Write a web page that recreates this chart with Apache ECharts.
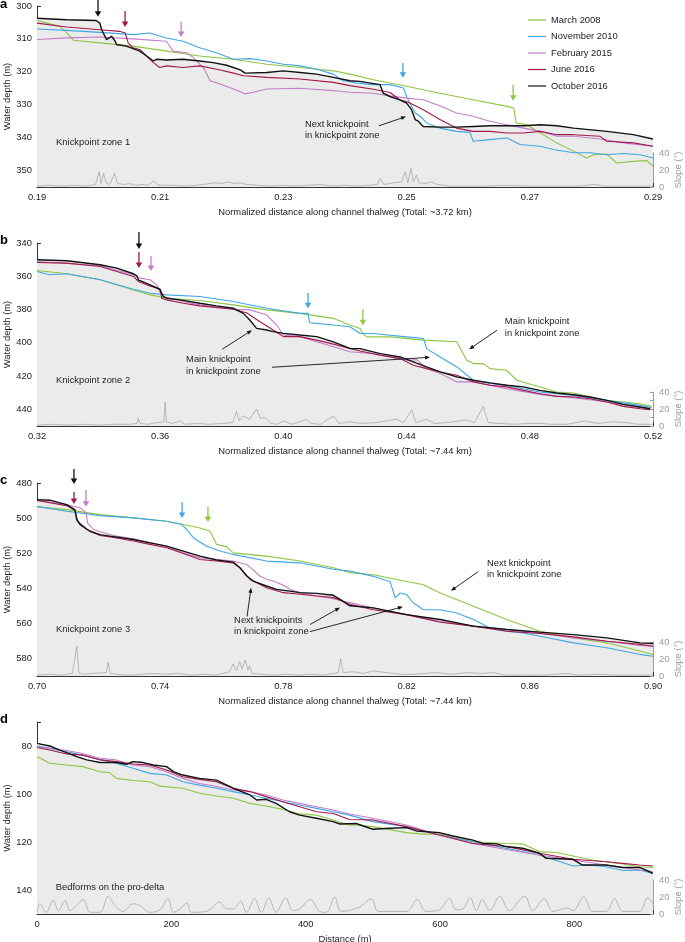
<!DOCTYPE html>
<html><head><meta charset="utf-8">
<script src="https://cdn.jsdelivr.net/npm/echarts@6/dist/echarts.min.js"></script>
<style>html,body{margin:0;padding:0;background:#fff}#c{width:685px;height:942px}</style>
</head><body><div id="c"></div>
<script>
const surveyNames = ['March 2008','November 2010','February 2015','June 2016','October 2016'];
const surveyColors = ['#8dc641','#41a6e4','#c47dc9','#a3184c','#111111'];

// ---------- Panel a : Knickpoint zone 1 (x normalized, y depth m) ----------
const a_mar2008 = [[0.19,304.4],[0.1937,306.2],[0.1948,308.0],[0.1959,310.4],[0.2002,311.2],[0.2056,312.2],[0.2110,313.7],[0.2164,315.2],[0.2219,316.2],[0.2273,317.7],[0.2327,318.7],[0.2381,319.7],[0.2408,320.7],[0.2446,322.4],[0.2500,324.4],[0.2554,326.5],[0.2608,328.5],[0.2663,330.5],[0.2674,331.0],[0.2678,335.6],[0.2695,336.1],[0.2717,338.6],[0.2744,341.6],[0.2771,344.1],[0.2792,346.2],[0.2803,345.2],[0.2825,345.0],[0.2841,347.7],[0.2868,347.2],[0.2890,347.0],[0.2900,348.7]];
const a_nov2010 = [[0.19,307.0],[0.1948,307.4],[0.2002,308.0],[0.2056,308.7],[0.2083,308.2],[0.2110,309.7],[0.2137,310.7],[0.2164,312.7],[0.2191,314.2],[0.2219,316.2],[0.2246,316.0],[0.2273,316.7],[0.2300,317.7],[0.2327,318.2],[0.2354,319.2],[0.2381,320.7],[0.2397,322.7],[0.2419,323.4],[0.2446,323.9],[0.2473,323.9],[0.2495,324.9],[0.2500,327.5],[0.2508,330.5],[0.2514,332.5],[0.2522,333.5],[0.2533,335.6],[0.2554,337.1],[0.2581,338.1],[0.2603,338.4],[0.2608,341.1],[0.2635,340.6],[0.2663,340.1],[0.2684,342.1],[0.2717,342.6],[0.2738,343.6],[0.2771,344.6],[0.2798,344.6],[0.2825,345.2],[0.2852,344.8],[0.2879,345.2],[0.2900,346.2]];
const a_feb2015 = [[0.19,310.2],[0.1948,309.7],[0.2002,309.4],[0.2056,310.0],[0.2110,310.7],[0.2121,313.7],[0.2143,314.2],[0.2154,315.7],[0.2170,318.7],[0.2181,322.7],[0.2197,323.7],[0.2219,325.2],[0.2238,326.7],[0.2251,326.2],[0.2273,325.2],[0.2327,325.0],[0.2381,325.7],[0.2408,326.2],[0.2446,326.5],[0.2473,327.3],[0.2500,328.0],[0.2527,328.5],[0.2554,330.3],[0.2581,332.5],[0.2608,333.5],[0.2635,335.0],[0.2663,336.1],[0.2690,337.1],[0.2717,338.1],[0.2744,339.6],[0.2771,339.6],[0.2814,340.4],[0.2852,341.6],[0.2900,342.6]];
const a_jun2016 = [[0.19,305.2],[0.1948,306.4],[0.2002,307.2],[0.2034,307.7],[0.2043,308.2],[0.2048,311.2],[0.2056,312.7],[0.2067,313.2],[0.2078,315.2],[0.2089,317.2],[0.2099,318.7],[0.2110,318.2],[0.2137,318.7],[0.2164,318.2],[0.2192,319.2],[0.2219,320.4],[0.2235,321.2],[0.2273,321.7],[0.2327,322.2],[0.2381,323.2],[0.2408,324.2],[0.2446,325.3],[0.2473,326.3],[0.2489,328.5],[0.2500,329.0],[0.2511,330.0],[0.2527,331.5],[0.2554,334.5],[0.2581,337.1],[0.2608,338.1],[0.2635,338.1],[0.2663,338.6],[0.2690,338.6],[0.2717,338.1],[0.2744,339.1],[0.2771,339.1],[0.2814,339.6],[0.2825,341.1],[0.2868,341.6],[0.2900,342.6]];
const a_oct2016 = [[0.19,303.7],[0.1948,304.2],[0.1996,304.4],[0.2002,305.2],[0.2005,307.2],[0.2013,310.2],[0.2021,309.2],[0.2027,310.7],[0.2029,311.7],[0.2045,312.2],[0.2067,313.7],[0.2078,315.2],[0.2089,316.7],[0.2094,316.2],[0.2110,316.4],[0.2137,316.2],[0.2164,316.7],[0.2186,317.2],[0.2208,318.0],[0.2230,319.4],[0.2238,320.4],[0.2273,320.2],[0.2300,319.7],[0.2327,320.2],[0.2354,320.7],[0.2381,321.7],[0.2408,322.7],[0.2424,322.9],[0.2457,323.9],[0.2462,326.5],[0.2473,327.5],[0.2489,328.5],[0.2500,329.5],[0.2508,331.5],[0.2514,334.5],[0.2519,335.0],[0.2527,336.6],[0.2554,336.8],[0.2581,336.8],[0.2608,336.6],[0.2635,336.4],[0.2663,336.4],[0.2690,336.4],[0.2717,336.1],[0.2744,336.4],[0.2771,337.1],[0.2825,338.1],[0.2868,339.1],[0.2900,340.4]];
const a_slope = [[0.19,1],[0.192,2],[0.194,1],[0.196,2],[0.198,1],[0.1995,3],[0.2001,18],[0.2004,4],[0.2008,16],[0.2012,5],[0.2018,3],[0.2026,16],[0.2031,4],[0.204,3],[0.205,4],[0.206,2],[0.207,3],[0.208,2],[0.209,7],[0.2095,3],[0.210,2],[0.212,2],[0.214,1],[0.216,2],[0.218,4],[0.219,5],[0.220,4],[0.221,6],[0.222,4],[0.223,5],[0.224,3],[0.226,2],[0.228,1],[0.230,2],[0.232,1],[0.234,2],[0.236,3],[0.238,1],[0.240,2],[0.242,1],[0.244,2],[0.2452,3],[0.2457,10],[0.2463,3],[0.248,5],[0.2492,6],[0.2498,18],[0.2502,5],[0.2507,22],[0.2511,6],[0.2516,14],[0.252,5],[0.253,4],[0.254,6],[0.255,3],[0.257,1],[0.26,1],[0.263,1],[0.266,2],[0.27,1],[0.274,1],[0.278,1],[0.2805,3],[0.282,1],[0.286,1],[0.29,1]];

// ---------- Panel b : Knickpoint zone 2 ----------
const b_mar2008 = [[0.32,356.5],[0.3297,358.5],[0.3405,362.1],[0.3513,368.2],[0.3567,371.2],[0.3621,373.2],[0.3729,374.6],[0.3837,377.2],[0.3946,380.2],[0.4053,382.3],[0.4162,385.3],[0.4216,389.3],[0.4249,391.4],[0.4258,394.5],[0.4271,396.4],[0.4346,396.4],[0.4455,398.4],[0.4563,399.4],[0.4595,410.5],[0.4617,412.5],[0.4649,412.5],[0.4671,415.5],[0.4725,416.5],[0.4758,422.5],[0.4833,426.5],[0.4887,429.6],[0.4942,430.2],[0.4996,432.6],[0.5050,434.6],[0.5158,436.6],[0.5196,438.2]];
const b_nov2010 = [[0.32,357.1],[0.3241,359.1],[0.3297,358.5],[0.3405,362.1],[0.3513,367.8],[0.3567,370.2],[0.3621,371.2],[0.3729,372.2],[0.3837,375.2],[0.3946,379.2],[0.4053,382.3],[0.4080,382.3],[0.4085,387.9],[0.4108,388.3],[0.4162,389.3],[0.4216,390.3],[0.4249,394.4],[0.4292,394.4],[0.4400,396.4],[0.4455,397.4],[0.4465,403.5],[0.4509,408.5],[0.4563,414.5],[0.4617,422.5],[0.4671,424.5],[0.4725,425.5],[0.4779,427.6],[0.4833,429.6],[0.4887,430.6],[0.4942,431.6],[0.5050,434.6],[0.5158,437.6],[0.5196,439.0]];
const b_feb2015 = [[0.32,351.1],[0.3405,353.7],[0.3513,359.1],[0.3535,361.1],[0.3567,362.1],[0.3589,365.2],[0.3599,369.2],[0.3610,372.2],[0.3675,375.2],[0.3729,377.2],[0.3837,379.8],[0.3891,380.2],[0.3946,383.3],[0.3978,389.3],[0.4000,395.3],[0.4053,396.3],[0.4108,399.4],[0.4162,402.4],[0.4216,405.4],[0.4292,406.5],[0.4400,410.5],[0.4433,410.1],[0.4465,415.5],[0.4509,418.5],[0.4563,423.5],[0.4617,423.5],[0.4725,427.6],[0.4833,431.0],[0.4942,433.0],[0.5050,435.6],[0.5158,439.0],[0.5191,439.6]];
const b_jun2016 = [[0.32,351.7],[0.3297,352.1],[0.3405,354.1],[0.3513,360.1],[0.3529,363.1],[0.3567,365.8],[0.3599,367.8],[0.3605,373.2],[0.3621,374.2],[0.3675,376.2],[0.3729,377.8],[0.3837,379.8],[0.3880,381.9],[0.3924,387.3],[0.3967,392.3],[0.4000,396.3],[0.4053,396.3],[0.4108,398.4],[0.4162,400.8],[0.4216,403.4],[0.4249,404.9],[0.4314,407.5],[0.4379,409.5],[0.4422,413.5],[0.4465,415.5],[0.4509,417.5],[0.4563,419.5],[0.4617,423.5],[0.4671,425.5],[0.4725,426.5],[0.4779,428.6],[0.4833,430.6],[0.4887,432.2],[0.4942,432.6],[0.4996,433.6],[0.5050,435.6],[0.5104,438.2],[0.5158,439.6],[0.5191,440.2]];
const b_oct2016 = [[0.32,350.1],[0.3297,350.7],[0.3405,353.1],[0.3459,355.1],[0.3513,358.5],[0.3524,359.7],[0.3529,362.1],[0.3567,365.2],[0.3599,367.8],[0.3610,372.2],[0.3621,373.2],[0.3664,374.2],[0.3729,376.2],[0.3783,377.8],[0.3837,379.2],[0.3870,382.3],[0.3891,386.3],[0.3913,391.3],[0.3946,392.3],[0.3967,393.3],[0.4000,394.3],[0.4053,395.3],[0.4108,396.3],[0.4162,399.4],[0.4216,403.4],[0.4249,403.5],[0.4314,406.5],[0.4379,408.5],[0.4422,411.5],[0.4465,414.5],[0.4509,417.5],[0.4563,420.5],[0.4617,422.5],[0.4671,424.1],[0.4725,425.5],[0.4779,426.5],[0.4833,428.6],[0.4887,430.2],[0.4942,431.2],[0.4996,432.6],[0.5050,434.6],[0.5104,437.0],[0.5158,438.6],[0.5191,439.6]];
const b_slope = [[0.32,1],[0.325,2],[0.33,1],[0.335,2],[0.34,1],[0.345,2],[0.35,2],[0.3525,3],[0.3529,9],[0.3535,3],[0.356,2],[0.359,4],[0.3612,5],[0.3616,28],[0.362,5],[0.364,3],[0.3664,6],[0.368,2],[0.372,3],[0.376,2],[0.38,3],[0.3835,4],[0.3848,17],[0.3856,6],[0.387,12],[0.389,8],[0.3913,20],[0.3925,9],[0.394,10],[0.396,3],[0.398,2],[0.4,6],[0.403,2],[0.4075,8],[0.409,3],[0.412,2],[0.4162,12],[0.418,3],[0.4216,5],[0.425,3],[0.43,4],[0.4368,8],[0.439,4],[0.4417,19],[0.443,4],[0.4465,8],[0.449,3],[0.453,4],[0.4595,7],[0.462,4],[0.4649,23],[0.4665,4],[0.47,3],[0.475,2],[0.48,3],[0.4833,3],[0.487,2],[0.492,2],[0.498,6],[0.502,3],[0.507,5],[0.5115,4],[0.515,2],[0.52,2]];

// ---------- Panel c : Knickpoint zone 3 ----------
const c_mar2008 = [[0.70,493.6],[0.7096,495.2],[0.7205,498.0],[0.7313,499.9],[0.7421,501.8],[0.7475,503.7],[0.7529,505.6],[0.7562,507.5],[0.7583,515.0],[0.7616,516.4],[0.7637,519.8],[0.7745,521.7],[0.7854,524.5],[0.7962,528.3],[0.8016,531.1],[0.8092,532.3],[0.8200,536.1],[0.8255,538.0],[0.8309,542.7],[0.8417,550.3],[0.8525,557.8],[0.8633,564.5],[0.8742,568.3],[0.8850,571.1],[0.8958,575.8],[0.9000,577.7]];
const c_nov2010 = [[0.70,493.3],[0.7096,496.1],[0.7205,498.6],[0.7313,499.9],[0.7421,501.8],[0.7470,503.7],[0.7486,506.5],[0.7508,511.3],[0.7551,516.0],[0.7594,518.8],[0.7637,520.7],[0.7745,524.5],[0.7854,525.5],[0.7962,529.2],[0.8016,530.2],[0.8092,533.2],[0.8146,536.1],[0.8163,545.5],[0.8179,542.7],[0.8200,543.6],[0.8222,548.4],[0.8255,552.2],[0.8309,552.2],[0.8363,554.1],[0.8417,557.8],[0.8471,562.6],[0.8525,564.5],[0.8579,565.4],[0.8633,567.3],[0.8742,571.1],[0.8850,573.9],[0.8958,577.7],[0.9000,578.7]];
const c_feb2015 = [[0.70,489.8],[0.7096,492.3],[0.7140,494.2],[0.7160,497.0],[0.7164,502.7],[0.7183,506.5],[0.7216,508.4],[0.7259,510.3],[0.7313,511.8],[0.7421,516.0],[0.7475,519.8],[0.7529,522.6],[0.7637,524.5],[0.7681,526.4],[0.7724,533.0],[0.7745,534.9],[0.7767,535.9],[0.7800,538.3],[0.7821,540.6],[0.7854,542.5],[0.7908,544.4],[0.7962,545.9],[0.8016,548.2],[0.8092,551.2],[0.8200,555.0],[0.8309,558.8],[0.8417,561.6],[0.8525,563.5],[0.8633,565.4],[0.8742,568.3],[0.8850,570.2],[0.8958,572.6],[0.9000,573.0]];
const c_jun2016 = [[0.70,490.0],[0.7096,492.9],[0.7123,495.5],[0.7132,501.8],[0.7162,506.5],[0.7205,509.9],[0.7259,511.3],[0.7313,513.1],[0.7367,515.0],[0.7421,516.9],[0.7475,520.2],[0.7529,523.6],[0.7583,524.5],[0.7637,525.5],[0.7659,528.3],[0.7692,534.9],[0.7745,539.7],[0.7800,542.5],[0.7854,543.4],[0.7908,544.4],[0.7962,545.3],[0.8016,549.1],[0.8092,552.2],[0.8200,555.0],[0.8309,559.4],[0.8417,561.6],[0.8525,564.5],[0.8633,565.8],[0.8742,567.7],[0.8850,570.2],[0.8958,572.0],[0.9000,573.0]];
const c_oct2016 = [[0.70,489.5],[0.7042,489.8],[0.7096,492.3],[0.7123,495.2],[0.7129,500.8],[0.7140,503.7],[0.7172,507.5],[0.7205,509.4],[0.7237,510.3],[0.7313,512.2],[0.7367,514.1],[0.7421,516.0],[0.7475,518.8],[0.7529,521.7],[0.7583,523.9],[0.7637,525.1],[0.7659,528.3],[0.7681,533.0],[0.7702,535.9],[0.7745,538.7],[0.7778,540.6],[0.7821,541.6],[0.7854,542.5],[0.7908,542.9],[0.7962,544.0],[0.7984,546.3],[0.8016,550.0],[0.8092,551.2],[0.8200,555.0],[0.8309,557.8],[0.8417,561.6],[0.8525,563.5],[0.8633,565.0],[0.8742,566.4],[0.8850,568.3],[0.8958,571.1],[0.9000,571.5]];
const c_slope = [[0.70,1],[0.704,2],[0.708,1],[0.7115,3],[0.7129,35],[0.7136,4],[0.715,2],[0.718,3],[0.7225,4],[0.7231,16],[0.7238,3],[0.726,2],[0.73,1],[0.734,2],[0.738,3],[0.742,2],[0.746,3],[0.75,1],[0.754,2],[0.758,1],[0.7625,5],[0.7637,14],[0.7648,6],[0.7658,17],[0.7666,8],[0.7676,19],[0.7685,7],[0.769,12],[0.7698,3],[0.773,2],[0.777,1],[0.781,2],[0.785,1],[0.789,2],[0.793,1],[0.7978,4],[0.7986,20],[0.7994,4],[0.8026,5],[0.806,3],[0.809,6],[0.8136,4],[0.818,2],[0.8225,2],[0.8298,4],[0.834,2],[0.840,4],[0.844,3],[0.848,4],[0.852,1],[0.858,1],[0.8645,1],[0.8719,3],[0.876,1],[0.882,2],[0.888,1],[0.894,1],[0.90,1]];

// ---------- Panel d : Bedforms on the pro-delta (x distance m) ----------
const d_mar2008 = [[0,84.4],[19,87.2],[44,87.9],[68,88.6],[94,90.7],[108,91.1],[118,93.5],[143,94.4],[168,94.9],[183,96.7],[217,97.6],[242,99.7],[267,100.8],[292,101.8],[317,103.9],[341,105.0],[366,106.4],[391,108.3],[416,108.8],[441,110.8],[465,112.9],[475,112.9],[500,113.6],[550,116.1],[575,116.7],[599,116.7],[624,117.8],[649,119.9],[698,120.6],[723,120.8],[748,124.0],[773,124.4],[798,125.8],[827,127.5],[847,128.2],[872,129.2],[897,130.3],[917,130.6]];
const d_nov2010 = [[0,80.0],[19,81.0],[44,82.4],[68,83.8],[94,85.6],[118,87.2],[143,89.3],[168,91.4],[193,92.1],[217,94.9],[242,96.3],[267,97.6],[292,99.0],[317,100.4],[341,101.8],[366,103.2],[391,104.6],[416,106.0],[441,107.4],[465,108.8],[500,111.5],[550,113.6],[599,117.1],[649,119.9],[698,122.6],[748,125.4],[798,130.0],[822,129.6],[847,130.3],[872,131.9],[897,131.7],[917,133.1]];
const d_feb2015 = [[0,80.3],[19,81.0],[44,81.9],[68,83.1],[94,85.1],[118,85.8],[143,87.9],[168,88.6],[193,90.7],[217,93.5],[242,95.6],[267,96.9],[292,98.3],[317,99.0],[341,100.4],[366,102.5],[391,103.9],[416,105.3],[441,106.7],[465,108.3],[500,110.1],[550,112.9],[599,117.1],[649,120.6],[698,123.1],[748,125.4],[798,127.5],[847,129.6],[897,131.7],[917,132.4]];
const d_jun2016 = [[0,80.6],[19,81.7],[44,83.3],[68,83.8],[94,85.8],[118,86.5],[143,87.5],[168,87.9],[193,90.0],[217,92.8],[242,93.9],[267,94.9],[292,97.6],[317,99.0],[341,101.1],[366,103.2],[391,105.3],[416,107.4],[441,108.1],[465,110.6],[500,110.8],[550,113.6],[599,117.1],[649,120.6],[698,121.9],[748,124.7],[798,127.2],[847,128.2],[872,128.9],[897,129.6],[917,130.0]];
const d_oct2016 = [[0,78.9],[19,80.0],[34,81.7],[44,82.8],[59,84.4],[74,85.8],[94,86.9],[118,86.9],[133,87.6],[143,86.5],[158,86.9],[173,87.9],[193,88.6],[203,90.7],[217,92.1],[242,93.5],[267,94.2],[292,97.6],[317,100.4],[327,102.5],[341,102.2],[356,103.9],[376,107.4],[391,108.8],[416,110.1],[441,111.5],[451,112.5],[475,112.3],[500,114.7],[525,114.3],[550,114.0],[565,115.4],[599,116.1],[619,117.5],[649,119.2],[664,120.6],[684,120.8],[698,121.9],[723,122.6],[748,124.7],[758,126.8],[798,127.2],[812,129.6],[847,129.6],[872,130.6],[897,130.6],[912,132.4],[917,133.1]];
const d_slope = [[0,2],[4,12],[14,2],[24,16],[32,4],[42,16],[49,4],[59,10],[69,17],[79,2],[94,2],[106,21],[116,10],[128,3],[143,12],[153,10],[168,2],[183,5],[195,18],[203,2],[213,6],[223,13],[230,2],[252,3],[272,14],[282,6],[292,6],[303,15],[312,2],[324,18],[334,2],[345,19],[356,2],[370,19],[381,4],[391,6],[407,17],[421,3],[431,2],[443,20],[453,3],[480,8],[498,18],[508,3],[550,3],[566,17],[579,3],[599,5],[614,18],[624,5],[634,6],[645,19],[654,4],[663,17],[674,4],[689,21],[703,4],[726,21],[738,4],[755,18],[768,3],[790,7],[798,4],[814,20],[827,3],[847,3],[860,18],[872,3],[897,3],[909,19],[917,12]];

// ---------- layout ----------
const FONT = '"Liberation Sans", Arial, Helvetica, sans-serif';
const FS = 9.4;
const panels = [
  {top:6, height:181, xmin:0.19, xmax:0.29, xint:0.01, xfmt:v=>Math.round(v*100)%2===1?v.toFixed(2):'', ymin:300, ymax:355, yint:5, ymod:10,
   xname:'Normalized distance along channel thalweg (Total: ~3.72 km)', lines:[a_mar2008,a_nov2010,a_feb2015,a_jun2016,a_oct2016], slope:a_slope, smooth:false},
  {top:243, height:183, xmin:0.32, xmax:0.52, xint:0.02, xfmt:v=>Math.round(v*100)%4===0?v.toFixed(2):'', ymin:340, ymax:450, yint:10, ymod:20,
   xname:'Normalized distance along channel thalweg (Total: ~7.44 km)', lines:[b_mar2008,b_nov2010,b_feb2015,b_jun2016,b_oct2016], slope:b_slope, smooth:false},
  {top:483, height:193, xmin:0.70, xmax:0.90, xint:0.02, xfmt:v=>Math.round(v*100)%4===2?v.toFixed(2):'', ymin:480, ymax:590, yint:10, ymod:20,
   xname:'Normalized distance along channel thalweg (Total: ~7.44 km)', lines:[c_mar2008,c_nov2010,c_feb2015,c_jun2016,c_oct2016], slope:c_slope, smooth:false},
  {top:722, height:192, xmin:0, xmax:917, xint:100, xfmt:v=>Math.round(v)%200===0?String(Math.round(v)):'', ymin:70, ymax:150, yint:10, ymod:20,
   xname:'Distance (m)', lines:[d_mar2008,d_nov2010,d_feb2015,d_jun2016,d_oct2016], slope:d_slope, smooth:true}
];
const LEFT = 37, RIGHT = 32, SLOPE_H = 34;
const axisCol = '#333', labCol = '#222', slopeCol = '#9a9a9a';

const grid = [], xAxis = [], yAxis = [], series = [];
panels.forEach((p,i)=>{
  grid.push({left:LEFT, right:RIGHT, top:p.top, height:p.height, containLabel:false, outerBoundsMode:'none'});
  xAxis.push({type:'value', gridIndex:i, min:p.xmin, max:p.xmax, interval:p.xint,
    name:p.xname, nameLocation:'middle', nameGap:21, nameTextStyle:{fontFamily:FONT, fontSize:FS, color:labCol},
    axisLine:{onZero:false, lineStyle:{color:axisCol, width:1}}, axisTick:{inside:true, length:4, lineStyle:{color:axisCol}},
    axisLabel:{formatter:p.xfmt, fontFamily:FONT, fontSize:FS, color:labCol, margin:6, showMinLabel:true, showMaxLabel:true},
    splitLine:{show:false}});
  yAxis.push({type:'value', gridIndex:i, inverse:true, min:p.ymin, max:p.ymax, interval:p.yint,
    name:'Water depth (m)', nameLocation:'middle', nameGap:25, nameMoveOverlap:false, nameRotate:90, nameTextStyle:{fontFamily:FONT, fontSize:FS, color:labCol},
    axisLine:{show:true, onZero:false, lineStyle:{color:axisCol, width:1}}, axisTick:{show:true, inside:true, length:4, lineStyle:{color:axisCol}},
    axisLabel:{formatter:v=>(Math.round(v)%p.ymod===0?String(Math.round(v)):''), fontFamily:FONT, fontSize:FS, color:labCol, margin:5},
    splitLine:{show:false}});
  // grey fill under the most recent survey
  series.push({type:'line', name:'fill'+i, xAxisIndex:i, yAxisIndex:i, data:p.lines[4], symbol:'none', silent:true,
    lineStyle:{width:0, opacity:0}, areaStyle:{color:'#ebebeb', opacity:1, origin:'end'}, z:1});
  p.lines.forEach((d,k)=>{
    series.push({type:'line', name:surveyNames[k], xAxisIndex:i, yAxisIndex:i, data:d, symbol:'none', smooth:false,
      lineStyle:{color:surveyColors[k], width:k===4?1.4:1.1}, itemStyle:{color:surveyColors[k]}, z:3+k});
  });
});
panels.forEach((p,i)=>{
  const g = 4+i;
  grid.push({left:LEFT, right:RIGHT, top:p.top+p.height-SLOPE_H, height:SLOPE_H, containLabel:false, outerBoundsMode:'none'});
  xAxis.push({type:'value', gridIndex:g, min:p.xmin, max:p.xmax, show:false, axisLine:{onZero:false}});
  yAxis.push({type:'value', gridIndex:g, position:'right', min:0, max:40, interval:10,
    name:'Slope (°)', nameLocation:'middle', nameGap:21, nameMoveOverlap:false, nameRotate:90, nameTextStyle:{fontFamily:FONT, fontSize:FS, color:slopeCol},
    axisLine:{show:true, onZero:false, lineStyle:{color:slopeCol, width:1}}, axisTick:{show:true, inside:true, length:3, lineStyle:{color:slopeCol}},
    axisLabel:{formatter:v=>(Math.round(v)%20===0?String(Math.round(v)):''), fontFamily:FONT, fontSize:FS, color:slopeCol, margin:6},
    splitLine:{show:false}});
  series.push({type:'line', name:'slope'+i, xAxisIndex:g, yAxisIndex:g, data:p.slope, symbol:'none', silent:true,
    smooth:p.smooth?0.35:false, lineStyle:{color:'#a8a8a8', width:0.8}, z:10});
});

const chart = echarts.init(document.getElementById('c'), null, {renderer:'canvas'});
chart.setOption({
  animation:false, backgroundColor:'#fff',
  grid, xAxis, yAxis, series,
  legend:{data:surveyNames, orient:'vertical', left:528, top:15.5, padding:0, itemWidth:18, itemHeight:11, itemGap:7.5,
    icon:'path://M0,5 L18,5 L18,6.2 L0,6.2 Z',
    textStyle:{fontFamily:FONT, fontSize:FS, color:labCol}}
});

// ---------- annotations placed in data coordinates ----------
function P(i, x, y){ return chart.convertToPixel({xAxisIndex:i, yAxisIndex:i}, [x, y]); }
function arrow(p0, p1, color, lw, hl, hw){
  const dx=p1[0]-p0[0], dy=p1[1]-p0[1], L=Math.hypot(dx,dy), ux=dx/L, uy=dy/L;
  const bx=p1[0]-ux*hl, by=p1[1]-uy*hl, nx=-uy, ny=ux;
  return [
    {type:'line', silent:true, z:100, shape:{x1:p0[0], y1:p0[1], x2:bx+ux*0.5, y2:by+uy*0.5}, style:{stroke:color, lineWidth:lw}},
    {type:'polygon', silent:true, z:100, shape:{points:[[p1[0],p1[1]],[bx+nx*hw/2,by+ny*hw/2],[bx-nx*hw/2,by-ny*hw/2]]}, style:{fill:color}}
  ];
}
function text(p, str){
  return {type:'text', silent:true, z:100, x:p[0], y:p[1], style:{text:str, fill:'#222', fontFamily:FONT, fontSize:FS, lineHeight:11.5, align:'left', verticalAlign:'middle'}};
}
// knickpoint arrows: [panel, x, depthStart, depthEnd, surveyIndex]
const knickArrows = [
  [0,0.1999,298.2,303.3,4],[0,0.2043,301.5,306.4,3],[0,0.2134,304.8,309.4,2],[0,0.2494,317.3,321.8,1],[0,0.2673,323.9,328.8,0],
  [1,0.3531,333.4,343.6,4],[1,0.3531,345.4,355.1,3],[1,0.3570,347.8,356.9,2],[1,0.4080,370.1,379.2,1],[1,0.4258,379.8,389.4,0],
  [2,0.7120,472.0,480.6,4],[2,0.7120,485.1,491.9,3],[2,0.7159,484.0,493.6,2],[2,0.7471,490.8,499.9,1],[2,0.7555,493.6,502.2,0]
];
// text labels: [panel, x, depth, text]
const noteTexts = [
  [0,0.1931,341.5,'Knickpoint zone 1'],[0,0.2335,337.7,'Next knickpoint\nin knickpoint zone'],
  [1,0.3262,422.5,'Knickpoint zone 2'],[1,0.3684,413.5,'Main knickpoint\nin knickpoint zone'],[1,0.4719,390.6,'Main knickpoint\nin knickpoint zone'],
  [2,0.7062,563.5,'Knickpoint zone 3'],[2,0.7640,561.5,'Next knickpoints\nin knickpoint zone'],[2,0.8461,528.9,'Next knickpoint\nin knickpoint zone'],
  [3,28,138.75,'Bedforms on the pro-delta']
];
// pointer arrows: [panel, x0, d0, x1, d1]
const notePointers = [
  [0,0.2455,336.4,0.2499,333.6],
  [1,0.3801,403.9,0.3898,392.4],[1,0.3963,414.7,0.4476,408.7],[1,0.4694,392.4,0.4603,403.9],
  [2,0.7682,556.1,0.7695,539.7],[2,0.7886,560.7,0.7984,551.0],[2,0.7886,564.7,0.8188,550.5],[2,0.8432,530.6,0.8344,541.4]
];
const gfx = [];
knickArrows.forEach(a=>{ gfx.push(...arrow(P(a[0],a[1],a[2]), P(a[0],a[1],a[3]), surveyColors[a[4]], 1.3, 5.5, 6.5)); });
noteTexts.forEach(t=>{ gfx.push(text(P(t[0],t[1],t[2]), t[3])); });
notePointers.forEach(a=>{ gfx.push(...arrow(P(a[0],a[1],a[2]), P(a[0],a[3],a[4]), '#111', 0.9, 5, 4)); });
// panel letters
[['a',0],['b',1],['c',2],['d',3]].forEach(([l,i])=>{
  const y = panels[i].top + (i===0 ? -2 : -3);
  gfx.push({type:'text', silent:true, z:100, x:0, y:y, style:{text:l, fill:'#000', fontFamily:FONT, fontSize:13, fontWeight:'bold', align:'left', verticalAlign:'middle'}});
});
chart.setOption({graphic:gfx});
</script></body></html>
